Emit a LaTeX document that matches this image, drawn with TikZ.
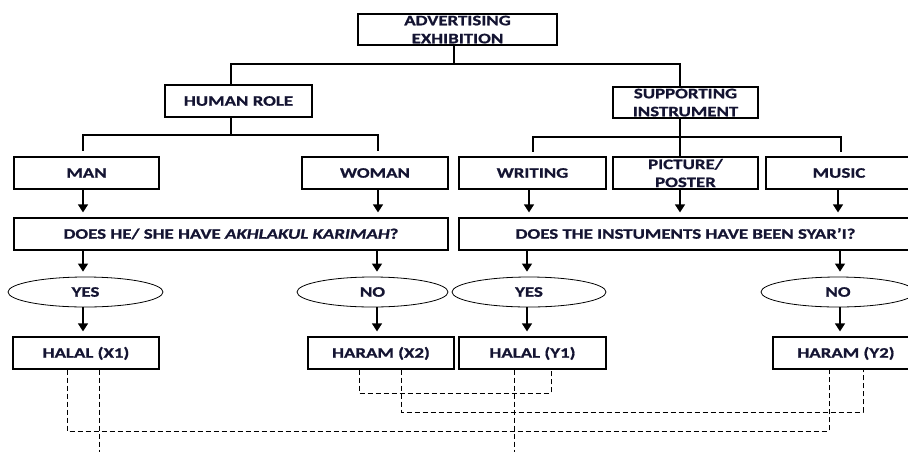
\documentclass[tikz,border=0pt]{standalone}
\usepackage{fontspec}
\setmainfont{Carlito}[FakeStretch=1.3, BoldFeatures={FakeBold=1}, BoldItalicFeatures={FakeBold=1}]
\usetikzlibrary{arrows.meta,shapes.geometric}
\definecolor{txt}{RGB}{20,20,50}
\tikzset{
  lbl/.style={font=\fontsize{14.5}{18}\selectfont\bfseries, text=txt},
  box/.style={lbl, draw, line width=1.2pt, inner sep=0pt, minimum height=32pt, text height=9.4pt, text depth=0pt},
  box2/.style={lbl, draw, line width=1.2pt, inner sep=0pt, minimum height=31pt, align=center, text depth=0pt},
  oval/.style={lbl, ellipse, draw, line width=0.8pt, inner sep=0pt, minimum height=30pt, text height=9.4pt, text depth=0pt},
  tree/.style={line width=1.2pt},
  arr/.style={line width=1.2pt, -{Triangle[width=10pt,length=8pt]}, shorten >=5pt},
  dsh/.style={line width=1pt, dash pattern=on 5pt off 3pt}
}
\begin{document}
\begin{tikzpicture}[x=1pt,y=-1pt]
\clip (0,0) rectangle (908,451);
% top level
\node[box2, minimum width=199pt] (top) at (457.5,29.5) {ADVERTISING\\EXHIBITION};
\node[box, minimum width=147pt] (human) at (238.5,101) {HUMAN ROLE};
\node[box2, minimum width=145pt] (support) at (685.5,102.5) {SUPPORTING\\INSTRUMENT};
% second level
\node[box, minimum width=145pt] (man) at (86.5,173) {MAN};
\node[box, minimum width=146pt] (woman) at (375,173) {WOMAN};
\node[box, minimum width=147pt] (writing) at (532.5,173) {WRITING};
\node[box2, minimum width=145pt, minimum height=32pt] (picture) at (685.5,173) {PICTURE/\\POSTER};
\node[box, minimum width=146pt] (music) at (839,173) {MUSIC};
% questions
\node[box, minimum width=434pt] (q1) at (231,234) {DOES HE/ SHE HAVE \textit{AKHLAKUL KARIMAH}?};
\node[box, minimum width=453pt] (q2) at (685.5,234) {DOES THE INSTUMENTS HAVE BEEN SYAR’I?};
% answers
\node[oval, minimum width=155pt] (yes1) at (85.5,292) {YES};
\node[oval, minimum width=151pt] (no1) at (372.5,292) {NO};
\node[oval, minimum width=154pt] (yes2) at (529,292) {YES};
\node[oval, minimum width=154pt] (no2) at (838,292) {NO};
% results
\node[box, minimum width=146pt] (x1) at (86,353) {HALAL (X1)};
\node[box, minimum width=146pt] (x2) at (381,353) {HARAM (X2)};
\node[box, minimum width=147pt] (y1) at (532.5,353) {HALAL (Y1)};
\node[box, minimum width=146pt] (y2) at (846,353) {HARAM (Y2)};
% tree connectors
\draw[tree] (454,0 |- top.south) -- (454,64) -| (231,0 |- human.north);
\draw[tree] (454,64) -| (680,0 |- support.north);
\draw[tree] (231,0 |- human.south) -- (231,135);
\draw[tree, shorten >=5pt] (231,135) -| (83,0 |- man.north);
\draw[tree, shorten >=5pt] (231,135) -| (378,0 |- woman.north);
\draw[tree] (680,0 |- support.south) -- (680,0 |- picture.north);
\draw[tree, shorten >=4pt] (680,137) -| (533,0 |- writing.north);
\draw[tree, shorten >=4pt] (680,137) -| (841,0 |- music.north);
% arrows
\draw[arr] (83,0 |- man.south) -- (83,0 |- q1.north);
\draw[arr] (378,0 |- woman.south) -- (378,0 |- q1.north);
\draw[arr] (529,0 |- writing.south) -- (529,0 |- q2.north);
\draw[arr] (680,0 |- picture.south) -- (680,0 |- q2.north);
\draw[arr] (838,0 |- music.south) -- (838,0 |- q2.north);
\draw[arr] (83,0 |- q1.south) -- (83,0 |- yes1.north);
\draw[arr] (377,0 |- q1.south) -- (377,0 |- no1.north);
\draw[arr] (527,0 |- q2.south) -- (527,0 |- yes2.north);
\draw[arr] (840,0 |- q2.south) -- (840,0 |- no2.north);
\draw[arr] (83,0 |- yes1.south) -- (83,0 |- x1.north);
\draw[arr] (377,0 |- no1.south) -- (377,0 |- x2.north);
\draw[arr] (527,0 |- yes2.south) -- (527,0 |- y1.north);
\draw[arr] (840,0 |- no2.south) -- (840,0 |- y2.north);
% dashed links
\draw[dsh] (67,0 |- x1.south) |- (829,431) -- (829,0 |- y2.south);
\draw[dsh] (99,0 |- x1.south) -- (99,452);
\draw[dsh] (514,0 |- y1.south) -- (514,452);
\draw[dsh] (359,0 |- x2.south) |- (551,393) -- (551,0 |- y1.south);
\draw[dsh] (401,0 |- x2.south) |- (863,412) -- (863,0 |- y2.south);
\end{tikzpicture}
\end{document}
